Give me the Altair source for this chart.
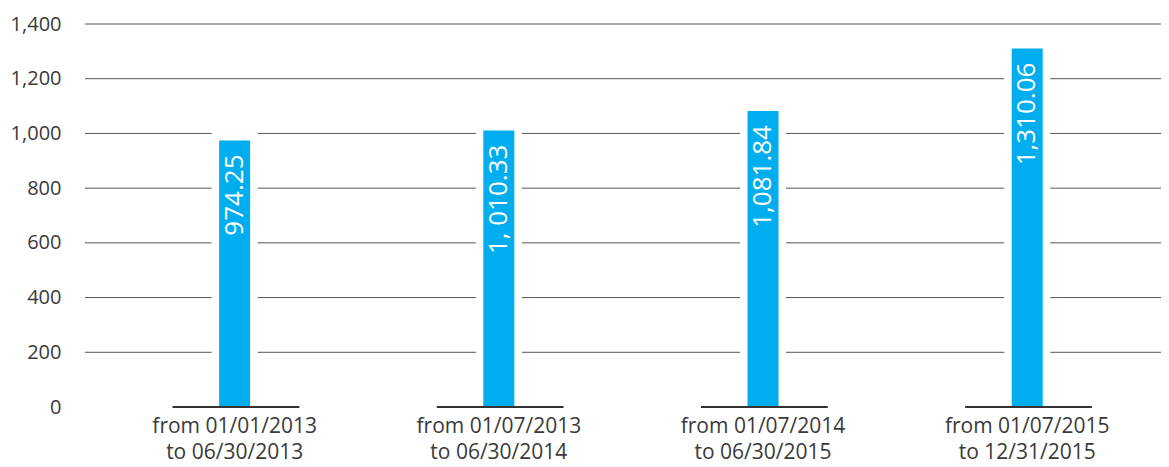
import altair as alt
import pandas as pd

periods = [
    "from 01/01/2013\nto 06/30/2013",
    "from 01/07/2013\nto 06/30/2014",
    "from 01/07/2014\nto 06/30/2015",
    "from 01/07/2015\nto 12/31/2015",
]
values = [974.25, 1010.33, 1081.84, 1310.06]
value_labels = ["974.25", "1, 010.33", "1,081.84", "1,310.06"]
y_ticks = [0, 200, 400, 600, 800, 1000, 1200, 1400]
grid_values = [200, 400, 600, 800, 1000, 1200, 1400]

W, H = 1076, 383
FONT = "Open Sans"
BLUE = "#00adef"
TEXT = "#3a3a3a"

df = pd.DataFrame({
    "idx": list(range(len(values))),
    "period": periods,
    "value": values,
    "label": value_labels,
})
df["gap_top"] = df["value"] + 30
df["seg_l"] = df["idx"] - 0.235
df["seg_r"] = df["idx"] + 0.245
df["zero"] = 0
grid_df = pd.DataFrame({"g": grid_values})

xscale = alt.Scale(domain=[-0.5475, 3.4875], nice=False, zero=False)
yscale = alt.Scale(domain=[0, 1400], nice=False)
yaxis = alt.Axis(values=y_ticks, format=",.0f", domain=False, ticks=False,
                 grid=False, labelFontSize=20, labelColor=TEXT,
                 labelFont=FONT, labelPadding=24, title=None)


def yq(field):
    return alt.Y(field, type="quantitative", scale=yscale, axis=yaxis)


xenc = alt.X("idx:Q", scale=xscale, axis=None)

grid = alt.Chart(grid_df).mark_rule(color="#555555", strokeWidth=1).encode(
    y=yq("g"), x=alt.value(0), x2=alt.value(W),
)

gaps = alt.Chart(df).mark_bar(color="white", size=46).encode(
    x=xenc, y=yq("gap_top"), y2=alt.Y2("zero:Q"),
)

bars = alt.Chart(df).mark_bar(color=BLUE, size=31).encode(
    x=xenc, y=yq("value"), y2=alt.Y2("zero:Q"),
)

segs = alt.Chart(df).mark_rule(color="#333333", strokeWidth=2).encode(
    x=alt.X("seg_l:Q", scale=xscale, axis=None), x2="seg_r:Q",
    y=yq("zero"),
)

bar_text = alt.Chart(df).mark_text(
    angle=270, align="right", baseline="middle", dx=-14,
    color="white", fontSize=26, font=FONT,
).encode(x=xenc, y=yq("value"), text="label:N")

x_text = alt.Chart(df).mark_text(
    align="center", baseline="top", dy=9, lineBreak="\n", lineHeight=26,
    color=TEXT, fontSize=21, font=FONT,
).encode(x=xenc, y=yq("zero"), text="period:N")

chart = alt.layer(grid, gaps, bars, segs, bar_text, x_text).properties(
    width=W, height=H,
    autosize=alt.AutoSizeParams(type="none"),
    padding={"left": 77, "top": 16, "right": 0, "bottom": 60},
).configure(background="white").configure_view(stroke=None)

chart.save("out.html", embed_options={"renderer": "svg", "actions": False})
